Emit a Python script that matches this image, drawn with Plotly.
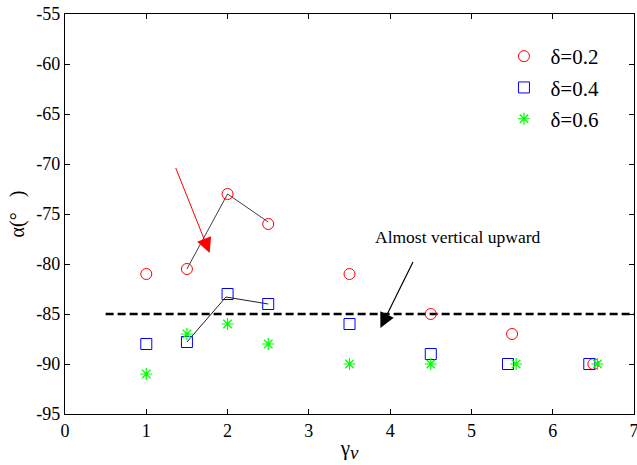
import plotly.graph_objects as go

# data
x_d02 = [1, 1.5, 2, 2.5, 3.5, 4.5, 5.5, 6.5]
y_d02 = [-81, -80.5, -73, -76, -81, -85, -87, -90]
x_d04 = [1, 1.5, 2, 2.5, 3.5, 4.5, 5.45, 6.45]
y_d04 = [-88, -87.8, -83, -84, -86, -89, -90, -90]
x_d06 = [1, 1.5, 2, 2.5, 3.5, 4.5, 5.55, 6.55]
y_d06 = [-91, -87, -86, -88, -90, -90, -90, -90]

link_red_x = [1.5, 2, 2.5]
link_red_y = [-80.5, -73, -75.8]
link_blue_x = [1.5, 1.98, 2.5]
link_blue_y = [-87.8, -83.3, -84]

ref_x = [0.5, 7]
ref_y = [-85, -85]

x_ticks = [0, 1, 2, 3, 4, 5, 6, 7]
y_ticks = [-95, -90, -85, -80, -75, -70, -65, -60, -55]
y_ticktext = [str(v) for v in y_ticks]

FONT = "Times New Roman, Liberation Serif, serif"

fig = go.Figure()

fig.add_trace(go.Scatter(x=link_red_x, y=link_red_y, mode="lines",
                         line=dict(color="#404040", width=1), showlegend=False, hoverinfo="skip"))
fig.add_trace(go.Scatter(x=link_blue_x, y=link_blue_y, mode="lines",
                         line=dict(color="#202020", width=1), showlegend=False, hoverinfo="skip"))
fig.add_trace(go.Scatter(x=ref_x, y=ref_y, mode="lines",
                         line=dict(color="black", width=2.5, dash="8px,4px"), showlegend=False))

fig.add_trace(go.Scatter(x=x_d02, y=y_d02, mode="markers", name="δ=0.2", legendgroup="a",
                         marker=dict(symbol="circle-open", size=11, color="#ff0000", line=dict(width=1))))
fig.add_trace(go.Scatter(x=x_d04, y=y_d04, mode="markers", name="δ=0.4", legendgroup="b",
                         marker=dict(symbol="square-open", size=11, color="#0000ff", line=dict(width=1))))
fig.add_trace(go.Scatter(x=x_d06, y=y_d06, mode="markers", name="δ=0.6", legendgroup="c",
                         marker=dict(symbol="asterisk-open", size=10, color="#00ff00", line=dict(width=1.2))))

fig.add_annotation(x=1.78, y=-78.9, ax=1.355, ay=-70.25, xref="x", yref="y", axref="x", ayref="y",
                   showarrow=True, arrowhead=2, arrowsize=3, arrowwidth=1, arrowcolor="#ff0000", text="")
fig.add_annotation(x=3.88, y=-86.4, ax=4.29, ay=-79.65, xref="x", yref="y", axref="x", ayref="y",
                   showarrow=True, arrowhead=2, arrowsize=2.5, arrowwidth=1.2, arrowcolor="black", text="")
fig.add_annotation(x=4.83, y=-77.3, xref="x", yref="y", text="Almost vertical upward", showarrow=False,
                   font=dict(family=FONT, size=17.5, color="black"))

axis_common = dict(showline=True, linecolor="black", linewidth=1.2, mirror="ticks", ticks="inside",
                   ticklen=5, tickcolor="black", showgrid=False, zeroline=False,
                   ticklabeloverflow="allow", automargin=False,
                   tickfont=dict(family=FONT, size=18, color="black"))

fig.update_layout(
    width=637, height=465,
    margin=dict(l=65, r=3, t=14, b=51, autoexpand=False),
    paper_bgcolor="white", plot_bgcolor="white",
    font=dict(family=FONT, color="black"),
    xaxis=dict(range=[0, 7], tickvals=x_ticks,
               title=dict(text="γ<sub><i><span style='font-size:19px'>v</span></i></sub>",
                          font=dict(family=FONT, size=21), standoff=0), **axis_common),
    yaxis=dict(range=[-95, -55], tickvals=y_ticks, ticktext=y_ticktext,
               title=dict(text="α(°\u00a0\u00a0\u00a0)", font=dict(family=FONT, size=20), standoff=6), **axis_common),
    legend=dict(x=0.76, y=0.945, xanchor="left", yanchor="top", bgcolor="rgba(0,0,0,0)",
                font=dict(family=FONT, size=21), tracegroupgap=1, itemwidth=43),
)

fig.write_html("out.html")
